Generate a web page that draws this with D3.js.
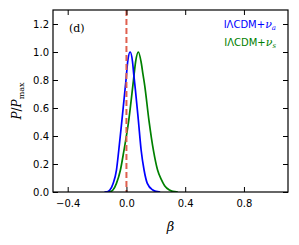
<!DOCTYPE html>
<html lang="en">
<head>
<meta charset="utf-8">
<title>P/Pmax vs beta</title>
<script src="https://cdn.jsdelivr.net/npm/d3@7"></script>
<style>
  body { margin: 0; background: #fff; }
  text { font-family: "DejaVu Sans", sans-serif; }
</style>
</head>
<body>
<script>
// curve samples (beta, P/Pmax)
var betaNuA = [-0.15, -0.125, -0.113, -0.09, -0.068, -0.052, -0.03, -0.003, 0.009, 0.025, 0.041, 0.05, 0.061, 0.081, 0.10, 0.12, 0.142, 0.18, 0.20, 0.23];
var probNuA = [0, 0.004, 0.014, 0.062, 0.157, 0.3, 0.52, 0.8, 0.934, 1.0, 0.934, 0.838, 0.73, 0.514, 0.3, 0.157, 0.062, 0.014, 0.004, 0];

var betaNuS = [-0.14, -0.105, -0.092, -0.068, -0.041, -0.018, 0.016, 0.047, 0.063, 0.081, 0.099, 0.113, 0.124, 0.153, 0.185, 0.212, 0.237, 0.26, 0.293, 0.315, 0.35];
var probNuS = [0, 0.004, 0.014, 0.062, 0.157, 0.29, 0.514, 0.79, 0.934, 1.0, 0.934, 0.838, 0.764, 0.514, 0.29, 0.157, 0.09, 0.045, 0.014, 0.004, 0];

var xTicks = [-0.4, 0.0, 0.4, 0.8];
var yTicks = [0.0, 0.2, 0.4, 0.6, 0.8, 1.0, 1.2];

var w = 299, h = 245;
var padL = 53, padR = 288, padT = 10, padB = 192;

var xScale = d3.scaleLinear().domain([-0.5, 1.1]).range([padL, padR]);
var yScale = d3.scaleLinear().domain([0, 1.3]).range([padB, padT]);

var svg = d3.select("body").append("svg")
  .attr("width", w).attr("height", h);

svg.append("rect").attr("width", w).attr("height", h).attr("fill", "#fff");

var line = d3.line()
  .x(function(d) { return xScale(d[0]); })
  .y(function(d) { return yScale(d[1]); })
  .curve(d3.curveMonotoneX);

svg.append("clipPath").attr("id", "plotclip")
  .append("rect").attr("x", padL).attr("y", padT)
  .attr("width", padR - padL).attr("height", padB - padT);

var plot = svg.append("g").attr("clip-path", "url(#plotclip)");

plot.append("path")
  .datum(d3.zip(betaNuS, probNuS))
  .attr("d", line)
  .attr("fill", "none").attr("stroke", "#008000").attr("stroke-width", 1.7);

plot.append("path")
  .datum(d3.zip(betaNuA, probNuA))
  .attr("d", line)
  .attr("fill", "none").attr("stroke", "#0000ff").attr("stroke-width", 1.7);

// beta = 0 reference
plot.append("line")
  .attr("x1", xScale(0)).attr("x2", xScale(0))
  .attr("y1", padT).attr("y2", padB)
  .attr("stroke", "#e0604f").attr("stroke-width", 2)
  .attr("stroke-dasharray", "6,3");

// axes, ticks pointing inward on all four sides
var tickLen = 5;
svg.append("g").attr("transform", "translate(0," + padB + ")")
  .call(d3.axisBottom(xScale).tickValues(xTicks).tickSize(-tickLen).tickPadding(8)
    .tickFormat(function(d) { return d3.format(".1f")(d).replace("-", "\u2212"); }));
svg.append("g").attr("transform", "translate(0," + padT + ")")
  .call(d3.axisTop(xScale).tickValues(xTicks).tickSize(-tickLen).tickFormat(""));
svg.append("g").attr("transform", "translate(" + padL + ",0)")
  .call(d3.axisLeft(yScale).tickValues(yTicks).tickSize(-tickLen).tickPadding(4)
    .tickFormat(d3.format(".1f")));
svg.append("g").attr("transform", "translate(" + padR + ",0)")
  .call(d3.axisRight(yScale).tickValues(yTicks).tickSize(-tickLen).tickFormat(""));

svg.selectAll(".domain").remove();
svg.selectAll(".tick line").attr("stroke", "#000").attr("stroke-width", 1);
svg.selectAll(".tick text").attr("fill", "#000").style("font-size", "10px")
  .style("font-family", "'DejaVu Sans', sans-serif");

svg.append("rect")
  .attr("x", padL).attr("y", padT)
  .attr("width", padR - padL).attr("height", padB - padT)
  .attr("fill", "none").attr("stroke", "#000").attr("stroke-width", 1.2);

// labels
var ylab = svg.append("text")
  .attr("transform", "translate(21," + ((padT + padB) / 2) + ") rotate(-90)")
  .attr("text-anchor", "middle")
  .style("font-family", "'DejaVu Serif', serif").style("font-size", "12px");
ylab.append("tspan").style("font-style", "italic").text("P");
ylab.append("tspan").text("/");
ylab.append("tspan").style("font-style", "italic").text("P");
ylab.append("tspan").attr("dy", 3).style("font-size", "8px").text("max");

svg.append("text")
  .attr("x", (padL + padR) / 2).attr("y", 231)
  .attr("text-anchor", "middle")
  .style("font-family", "'DejaVu Serif', serif").style("font-style", "italic")
  .style("font-size", "13px").text("\u03b2");

svg.append("text")
  .attr("x", 69).attr("y", 32)
  .attr("fill", "#000")
  .style("font-family", "'DejaVu Serif', serif").style("font-size", "11px")
  .text("(d)");

// legend entries
var legendNames = ["I\u039bCDM+", "I\u039bCDM+"];
var legendSubs = ["a", "s"];
var legendColors = ["#0000ff", "#008000"];
legendNames.forEach(function(name, i) {
  var t = svg.append("text")
    .attr("x", 276).attr("y", 28 + i * 17.5)
    .attr("text-anchor", "end")
    .attr("fill", legendColors[i])
    .style("font-size", "10px");
  t.append("tspan").text(name);
  t.append("tspan").style("font-family", "'DejaVu Serif', serif")
    .style("font-style", "italic").style("font-size", "11px").text("\u03bd");
  t.append("tspan").attr("dy", 2).style("font-family", "'DejaVu Serif', serif")
    .style("font-style", "italic").style("font-size", "7px").text(legendSubs[i]);
});
</script>
</body>
</html>
